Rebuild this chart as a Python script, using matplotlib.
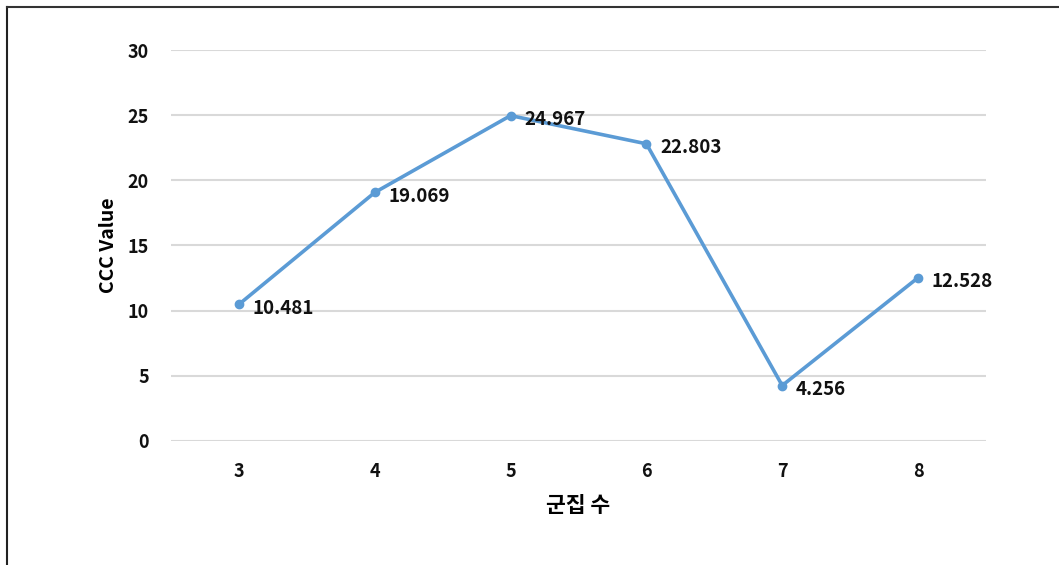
import matplotlib.pyplot as plt
from matplotlib.lines import Line2D

plt.rcParams['font.family'] = ['Noto Sans CJK KR', 'DejaVu Sans']

clusters = ['3', '4', '5', '6', '7', '8']
ccc_values = [10.481, 19.069, 24.967, 22.803, 4.256, 12.528]
y_ticks = [0, 5, 10, 15, 20, 25, 30]

fig = plt.figure(figsize=(10.59, 5.65), dpi=100)
ax = fig.add_axes([0.1615, 0.2195, 0.7695, 0.692])

x = list(range(len(clusters)))
ax.plot(x, ccc_values, color='#5B9BD5', linewidth=2.6, marker='o',
        markersize=6, zorder=3)

for xi, v in zip(x, ccc_values):
    ax.annotate(f'{v:.3f}', (xi, v), xytext=(10, -3), textcoords='offset points',
                ha='left', va='center', fontsize=13.5, fontweight='semibold',
                color='#111111')

ax.set_xlim(-0.5, len(clusters) - 0.5)
ax.set_ylim(0, 30)
ax.set_xticks(x)
ax.set_xticklabels(clusters)
ax.set_yticks(y_ticks)
ax.grid(axis='y', color='#D9D9D9', linewidth=1.5)
ax.set_axisbelow(True)
for s in ax.spines.values():
    s.set_visible(False)
ax.tick_params(length=0, labelsize=13, labelcolor='#111111')
ax.tick_params(axis='y', pad=16)
ax.tick_params(axis='x', pad=15)
for lab in ax.get_xticklabels() + ax.get_yticklabels():
    lab.set_fontweight('bold')

ax.set_xlabel('군집 수', fontsize=15.5, fontweight='bold', labelpad=10)
ax.set_ylabel('CCC Value', fontsize=14, fontweight='bold', labelpad=7)

# outer frame (left and top edge only)
fig.add_artist(Line2D([0.0066, 0.0066], [0, 0.988], color='#222222', linewidth=1.5,
                      transform=fig.transFigure))
fig.add_artist(Line2D([0.0066, 1.0], [0.988, 0.988], color='#333333', linewidth=1.5,
                      transform=fig.transFigure))

fig.savefig('out.png', dpi=100)
